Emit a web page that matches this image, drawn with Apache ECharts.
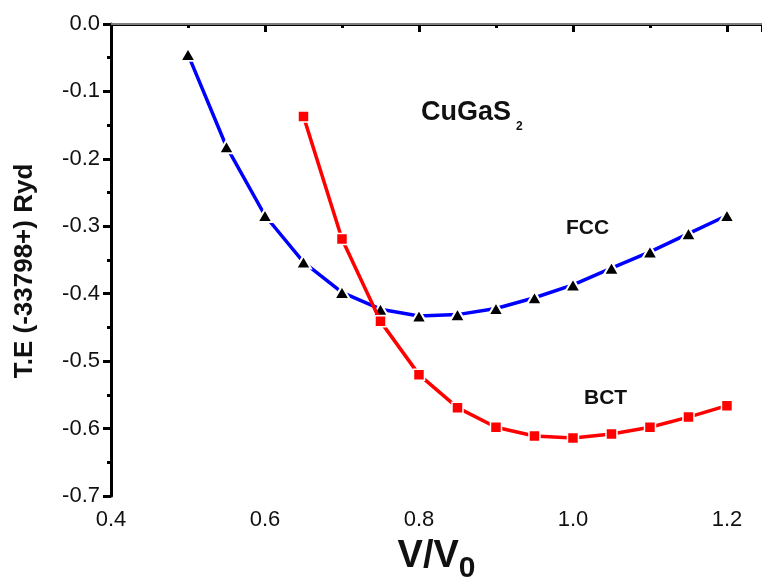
<!DOCTYPE html>
<html>
<head>
<meta charset="utf-8">
<script src="https://cdn.jsdelivr.net/npm/echarts@6/dist/echarts.min.js"></script>
<style>
html,body{margin:0;padding:0;background:#fff;}
#c{width:762px;height:586px;}
</style>
</head>
<body>
<div id="c"></div>
<script>
// Data
var fccV = [0.50, 0.55, 0.60, 0.65, 0.70, 0.75, 0.80, 0.85, 0.90, 0.95, 1.00, 1.05, 1.10, 1.15, 1.20];
var fccE = [-0.045, -0.182, -0.284, -0.353, -0.398, -0.423, -0.433, -0.431, -0.422, -0.406, -0.387, -0.362, -0.338, -0.311, -0.284];
var bctV = [0.65, 0.70, 0.75, 0.80, 0.85, 0.90, 0.95, 1.00, 1.05, 1.10, 1.15, 1.20];
var bctE = [-0.137, -0.319, -0.441, -0.520, -0.569, -0.598, -0.611, -0.614, -0.608, -0.598, -0.583, -0.566];
var seriesNames = ['FCC', 'BCT'];
var chartTitle = 'CuGaS';
var chartTitleSub = '2';
var xName = 'V/V';
var xNameSub = '0';
var yName = 'T.E (-33798+) Ryd';

function pairs(xs, ys) { return xs.map(function (x, i) { return [x, ys[i]]; }); }

var chart = echarts.init(document.getElementById('c'), null, {renderer: 'canvas'});
var font = 'Arial, "Liberation Sans", Helvetica, sans-serif';
chart.setOption({
  animation: false,
  backgroundColor: '#fff',
  grid: {left: 111, top: 24, right: 0, bottom: 90, show: false, containLabel: false, outerBoundsMode: 'none'},
  xAxis: {
    type: 'value', min: 0.4, max: 1.2455, interval: 0.2,
    axisLine: {show: true, lineStyle: {color: '#000', width: 3}},
    axisTick: {show: true, inside: false, length: 8, lineStyle: {color: '#000', width: 3}},
    minorTick: {show: true, splitNumber: 2, length: 4, lineStyle: {color: '#000', width: 3}},
    splitLine: {show: false},
    axisLabel: {showMaxLabel: false, color: '#111', fontSize: 22, fontFamily: font, margin: 13,
      formatter: function (v) { return v.toFixed(1); }},
    name: '{a|' + xName + '}{b|' + xNameSub + '}',
    nameLocation: 'middle', nameGap: 42,
    nameTextStyle: {
      rich: {
        a: {fontSize: 38, fontWeight: 'bold', fontFamily: font, color: '#111', lineHeight: 38, verticalAlign: 'top'},
        b: {fontSize: 30, fontWeight: 'bold', fontFamily: font, color: '#111', lineHeight: 46, verticalAlign: 'bottom'}
      }
    }
  },
  yAxis: {
    type: 'value', min: -0.7, max: 0, interval: 0.1,
    axisLine: {show: true, onZero: false, lineStyle: {color: '#000', width: 3}},
    axisTick: {show: true, inside: false, length: 8, lineStyle: {color: '#000', width: 3}},
    minorTick: {show: true, splitNumber: 2, length: 4, lineStyle: {color: '#000', width: 3}},
    splitLine: {show: false},
    axisLabel: {color: '#111', fontSize: 22, fontFamily: font, margin: 11,
      formatter: function (v) { return v.toFixed(1); }},
    name: yName, nameLocation: 'middle', nameGap: 73, nameRotate: 90,
    nameTextStyle: {fontSize: 26, fontWeight: 'bold', fontFamily: font, color: '#111', padding: [0, 22, 0, 0]}
  },
  graphic: [
    {type: 'line', z: 10, shape: {x1: 111, y1: 24, x2: 762, y2: 24}, style: {stroke: '#7f7f7f', lineWidth: 2}},
    {type: 'text', left: 421, top: 99, z: 20, style: {
      text: '{a|' + chartTitle + '}{b|' + chartTitleSub + '}',
      rich: {
        a: {fontSize: 27, fontWeight: 'bold', fontFamily: font, fill: '#111', lineHeight: 27, verticalAlign: 'top'},
        b: {fontSize: 12, fontWeight: 'bold', fontFamily: font, fill: '#111', lineHeight: 34, verticalAlign: 'bottom', padding: [0, 0, 0, 5]}
      }}},
    {type: 'text', left: 566, top: 218, z: 20, style: {text: seriesNames[0], fontSize: 21, fontWeight: 'bold', fontFamily: font, fill: '#111'}},
    {type: 'text', left: 584, top: 388, z: 20, style: {text: seriesNames[1], fontSize: 21, fontWeight: 'bold', fontFamily: font, fill: '#111'}}
  ],
  series: [
    {
      name: seriesNames[0], type: 'line', data: pairs(fccV, fccE),
      lineStyle: {color: '#0000ff', width: 3.5},
      symbol: 'triangle', symbolSize: [15, 13],
      itemStyle: {color: '#000', borderColor: '#fff', borderWidth: 2},
      z: 3
    },
    {
      name: seriesNames[1], type: 'line', data: pairs(bctV, bctE),
      lineStyle: {color: '#ff0000', width: 3.5},
      symbol: 'rect', symbolSize: 11,
      itemStyle: {color: '#ff0000', borderColor: '#fff', borderWidth: 1.5},
      z: 4
    }
  ]
});
</script>
</body>
</html>
